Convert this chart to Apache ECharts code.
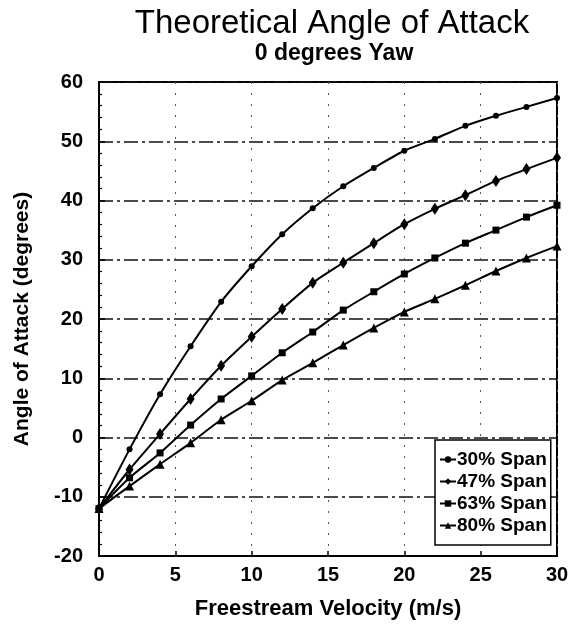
<!DOCTYPE html>
<html>
<head>
<meta charset="utf-8">
<script src="https://cdn.jsdelivr.net/npm/echarts@6/dist/echarts.min.js"></script>
<style>
  html, body { margin: 0; padding: 0; background: #fff; }
  #chart { width: 575px; height: 639px; }
</style>
</head>
<body>
<div id="chart"></div>
<script>
// velocity (m/s) and angle of attack (deg) for each span station
const velocity = [0, 2, 4, 6, 8, 10, 12, 14, 16, 18, 20, 22, 24, 26, 28, 30];
const span30 = [-12, -2.0, 7.3, 15.4, 22.9, 28.9, 34.3, 38.7, 42.4, 45.5, 48.4, 50.4, 52.6, 54.3, 55.8, 57.3];
const span47 = [-12, -5.4, 0.6, 6.5, 12.1, 17.0, 21.7, 26.1, 29.5, 32.8, 36.0, 38.6, 40.9, 43.3, 45.3, 47.2];
const span63 = [-12, -6.8, -2.6, 2.1, 6.5, 10.4, 14.3, 17.8, 21.5, 24.6, 27.6, 30.3, 32.8, 35.0, 37.2, 39.2];
const span80 = [-12, -8.2, -4.5, -0.9, 3.0, 6.2, 9.7, 12.6, 15.6, 18.5, 21.2, 23.4, 25.7, 28.1, 30.3, 32.3];
const seriesNames = ['30% Span', '47% Span', '63% Span', '80% Span'];

const font = 'Liberation Sans, Arial, sans-serif';
const myChart = echarts.init(document.getElementById('chart'));

function makeSeries(name, values, symbol, size) {
    return {
        name: name,
        type: 'line',
        data: velocity.map((v, i) => [v, values[i]]),
        symbol: symbol,
        symbolSize: size,
        showSymbol: true,
        smooth: 0.25,
        lineStyle: { color: '#000', width: 2 },
        itemStyle: { color: '#000' },
        emphasis: { disabled: true }
    };
}

myChart.setOption({
    animation: false,
    backgroundColor: '#fff',
    graphic: [
        {
            type: 'text', x: 332, y: 7,
            style: { text: 'Theoretical Angle of Attack', font: '33px ' + font, fill: '#000', textAlign: 'center' }
        },
        {
            type: 'text', x: 334, y: 42,
            style: { text: '0 degrees Yaw', font: 'bold 23px ' + font, fill: '#000', textAlign: 'center' }
        }
    ],
    grid: {
        left: 99, right: 18, top: 82, bottom: 83,
        show: true, borderColor: '#000', borderWidth: 2
    },
    legend: {
        data: seriesNames,
        orient: 'vertical',
        left: 435, top: 440,
        backgroundColor: '#fff',
        borderColor: '#000', borderWidth: 1.5,
        padding: [9, 4, 9, 4],
        itemGap: 1,
        itemWidth: 16, itemHeight: 8,
        textStyle: { fontFamily: font, fontSize: 19, fontWeight: 'bold', color: '#000', lineHeight: 21, padding: [0, 0, 0, -4] }
    },
    xAxis: {
        type: 'value',
        min: 0, max: 30, interval: 5,
        name: 'Freestream Velocity (m/s)',
        nameLocation: 'middle', nameGap: 42,
        nameTextStyle: { fontFamily: font, fontSize: 22, fontWeight: 'bold', color: '#000' },
        axisLine: { onZero: false, lineStyle: { color: '#000', width: 2 } },
        axisTick: { inside: true, length: 5, lineStyle: { color: '#000', width: 1.5 } },
        axisLabel: { fontFamily: font, fontSize: 20, fontWeight: 'bold', color: '#000', margin: 9 },
        splitLine: { show: true, lineStyle: { color: '#555', width: 1, type: [2, 9] } }
    },
    yAxis: {
        type: 'value',
        min: -20, max: 60, interval: 10,
        name: 'Angle of Attack (degrees)',
        nameLocation: 'middle', nameGap: 66,
        nameTextStyle: { fontFamily: font, fontSize: 21, fontWeight: 'bold', color: '#000' },
        axisLine: { onZero: false, lineStyle: { color: '#000', width: 2 } },
        axisTick: { inside: true, length: 6, lineStyle: { color: '#000', width: 1.5 } },
        minorTick: { show: true, splitNumber: 5, length: 3, lineStyle: { color: '#000', width: 1.2 } },
        axisLabel: { fontFamily: font, fontSize: 20, fontWeight: 'bold', color: '#000', margin: 16 },
        splitLine: { show: true, lineStyle: { color: '#111', width: 1.5, type: [14, 4, 3, 4] } }
    },
    series: [
        makeSeries(seriesNames[0], span30, 'circle', 6),
        makeSeries(seriesNames[1], span47, 'diamond', [8, 12]),
        makeSeries(seriesNames[2], span63, 'rect', 7),
        makeSeries(seriesNames[3], span80, 'triangle', 9)
    ]
});
</script>
</body>
</html>
